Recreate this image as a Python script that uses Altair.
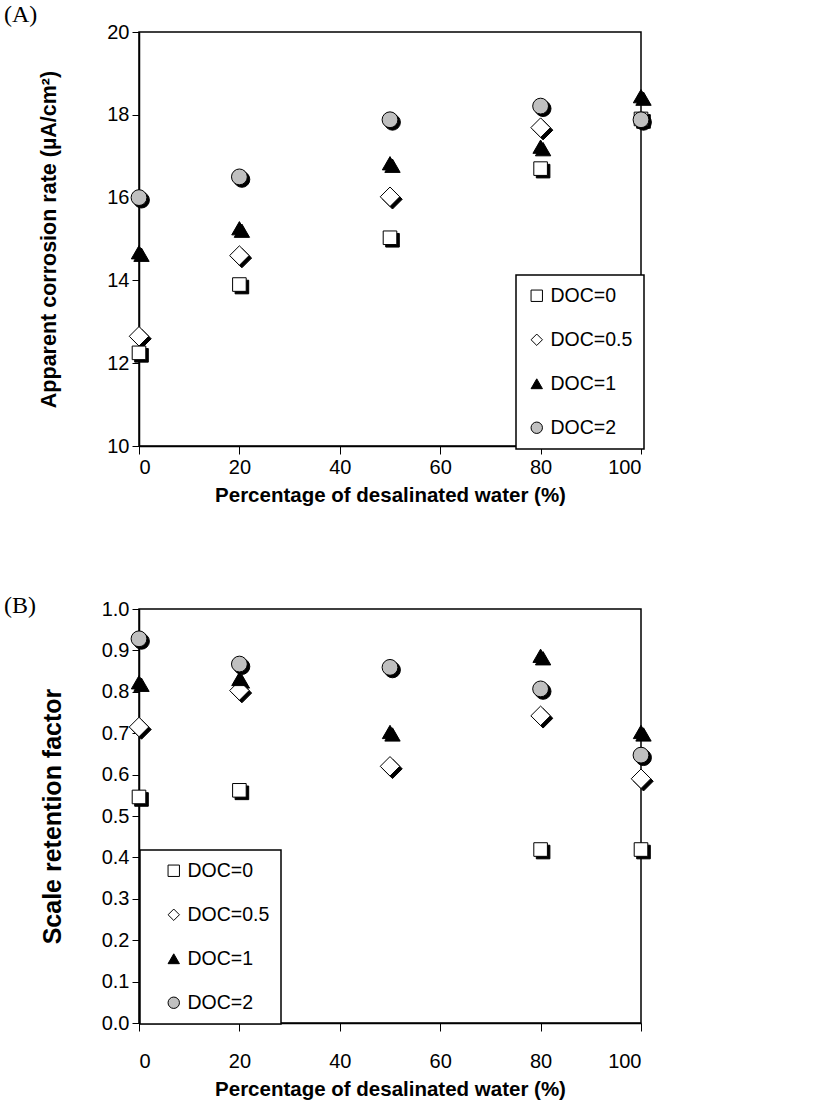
import altair as alt
import pandas as pd

series = ["DOC=0", "DOC=0.5", "DOC=1", "DOC=2"]
x_pct = [0, 20, 50, 80, 100]

# Panel A: apparent corrosion rate (uA/cm2)
a_doc0 = [12.25, 13.9, 15.03, 16.7, 17.9]
a_doc05 = [12.65, 14.6, 16.02, 17.69, None]
a_doc1 = [14.68, 15.26, 16.83, 17.23, 18.45]
a_doc2 = [16.0, 16.5, 17.88, 18.21, 17.88]

# Panel B: scale retention factor
b_doc0 = [0.546, 0.562, None, 0.419, 0.419]
b_doc05 = [0.715, 0.803, 0.62, 0.742, 0.59]
b_doc1 = [0.823, 0.831, 0.703, 0.887, 0.703]
b_doc2 = [0.928, 0.867, 0.859, 0.807, 0.647]

shape_range = ["square", "diamond", "triangle-up", "circle"]
fill_range = ["white", "white", "black", "#c0c0c0"]
stroke_range = ["black", "black", "black", "black"]
size_range = [185, 380, 235, 250]

FONT = "Liberation Sans"


def make_df(cols):
    rows = []
    for s, vals in zip(series, cols):
        for x, v in zip(x_pct, vals):
            if v is not None:
                rows.append({"x": x, "y": v, "series": s})
    return pd.DataFrame(rows)


def panel(df, ydom, yvals, yfmt, ytitle, ytfs, ytx, label, label_y, leg_x, leg_y, sym_off, extra, xlabpad):
    legend = alt.Legend(
        title=None, orient="none", legendX=leg_x, legendY=leg_y,
        fillColor="white", strokeColor="black", padding=11,
        labelFont=FONT, labelFontSize=19.5, labelColor="black",
        symbolSize=130, symbolStrokeColor="black", symbolStrokeWidth=1,
        symbolOpacity=1, symbolOffset=sym_off,
        rowPadding=23, labelOffset=4,
        labelExpr="datum.label + '" + extra + "'",
    )
    xenc = alt.X("x:Q", scale=alt.Scale(domain=[0, 100], nice=False),
                 axis=alt.Axis(values=[0, 20, 40, 60, 80, 100], title="Percentage of desalinated water (%)",
                               tickSize=8, labelPadding=xlabpad, titlePadding=8, grid=False))
    yenc = alt.Y("y:Q", scale=alt.Scale(domain=ydom, nice=False, zero=False),
                 axis=alt.Axis(values=yvals, format=yfmt, title=ytitle, tickSize=7,
                               labelPadding=3, titleX=ytx, titleFontSize=ytfs, grid=False))
    base = alt.Chart(df)
    # legend-carrying layer, drawn first and small so the real markers cover it
    layers = [
        base.mark_point(filled=True, strokeWidth=1, opacity=1, size=130).encode(
            x=xenc, y=yenc,
            shape=alt.Shape("series:N", scale=alt.Scale(domain=series, range=shape_range), legend=legend),
            fill=alt.Fill("series:N", scale=alt.Scale(domain=series, range=fill_range), legend=legend),
            stroke=alt.Stroke("series:N", scale=alt.Scale(domain=series, range=stroke_range), legend=legend),
        )
    ]
    for s, shp, sz in zip(series, shape_range, size_range):
        layers.append(
            base.transform_filter(alt.datum.series == s).mark_point(
                shape=shp, size=sz, filled=True, fill="black", stroke="black", strokeWidth=1,
                opacity=1, xOffset=2.5, yOffset=2.5,
            ).encode(x=xenc, y=yenc)
        )
    for s, shp, sz, fc in zip(series, shape_range, size_range, fill_range):
        layers.append(
            base.transform_filter(alt.datum.series == s).mark_point(
                shape=shp, size=sz, filled=True, fill=fc, stroke="black", strokeWidth=1, opacity=1,
            ).encode(x=xenc, y=yenc)
        )
    lab = alt.Chart(pd.DataFrame({"t": [label]})).mark_text(
        font="Liberation Serif", fontSize=24, align="left", baseline="alphabetic", color="black"
    ).encode(x=alt.value(-135), y=alt.value(label_y), text="t:N")
    layers.append(lab)
    return alt.layer(*layers).properties(width=502, height=414)


dfa = make_df([a_doc0, a_doc05, a_doc1, a_doc2])
dfb = make_df([b_doc0, b_doc05, b_doc1, b_doc2])

pa = panel(dfa, [10, 20], [10, 12, 14, 16, 18, 20], "d", "Apparent corrosion rate (µA/cm²)", 21.5, -79,
           "(A)", -10, 377, 243, 0, "", 3)
pb = panel(dfb, [0, 1], [round(i * 0.1, 1) for i in range(11)], ".1f", "Scale retention factor", 25, -74,
           "(B)", 4, 1, 241, 13, "\u00a0\u00a0", 20)

chart = alt.vconcat(pa, pb, spacing=86).resolve_scale(
    shape="independent", fill="independent", stroke="independent"
).properties(
    padding={"left": 3, "top": 2, "right": 5, "bottom": 5}
).configure_view(stroke="black", strokeWidth=1.5).configure_axis(
    domainColor="black", domainWidth=1.5, tickColor="black", tickWidth=1,
    labelFont=FONT, labelFontSize=20, labelColor="black",
    titleFont=FONT, titleFontSize=20.5, titleFontWeight="bold", titleColor="black",
).configure_legend(strokeWidth=1.5)

chart.save("out.html", embed_options={"renderer": "svg", "actions": False})
